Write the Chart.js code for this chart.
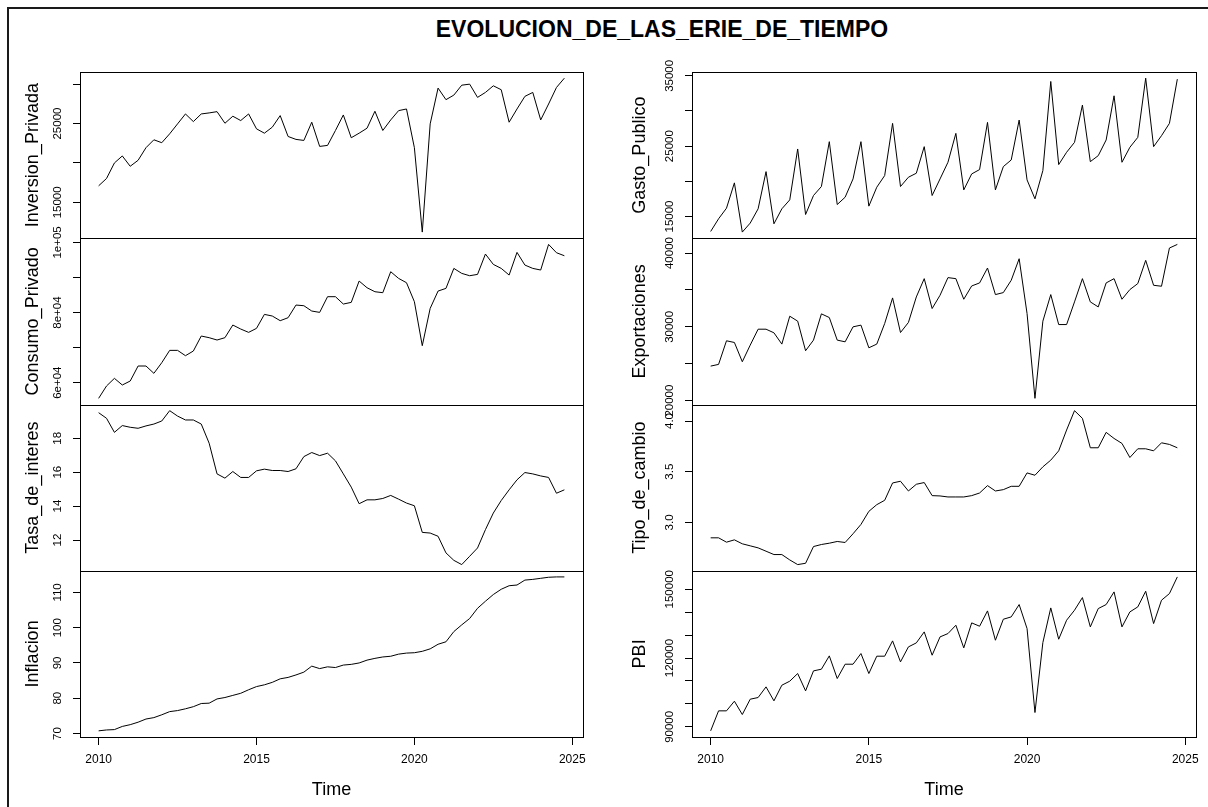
<!DOCTYPE html>
<html>
<head>
<meta charset="utf-8">
<script src="https://cdn.jsdelivr.net/npm/chart.js@4.4.1/dist/chart.umd.min.js"></script>
<style>
  html, body { margin: 0; padding: 0; background: #fff; overflow: hidden; }
  body { width: 1208px; height: 807px; position: relative; font-family: "Liberation Sans", Arial, sans-serif; }
  #frame { position: absolute; left: 7px; top: 7px; width: 1300px; height: 900px; border: 2px solid #1a1a1a; }
  #title { position: absolute; left: 0; width: 1324px; top: 15px; text-align: center; font-weight: bold;
           font-size: 23px; line-height: 28px; color: #000; white-space: nowrap; }
  canvas { position: absolute; top: 0; }
  #left { left: 0; }
  #right { left: 600px; }
</style>
</head>
<body>
<div id="frame"></div>
<div id="title">EVOLUCION_DE_LAS_ERIE_DE_TIEMPO</div>
<canvas id="left" width="600" height="807"></canvas>
<canvas id="right" width="608" height="807"></canvas>
<script>
// quarterly series, 2010 Q1 .. 2024 Q4
const tsStart = 2010;
const tsFrequency = 4;
const xTicks = [2010, 2015, 2020, 2025];

const inversionPrivada = [17100, 18030, 20000, 20890, 19580, 20340, 21940, 22940, 22570, 23700,
  24960, 26220, 25250, 26220, 26350, 26510, 25040, 25930, 25380, 26220,
  24330, 23780, 24540, 26010, 23360, 22990, 22860, 25170, 22100, 22230,
  24120, 26090, 23200, 23780, 24410, 26560, 24120, 25460, 26640, 26850,
  21940, 11230, 24960, 29500, 28030, 28610, 29870, 30000, 28320, 28950,
  29790, 29290, 25170, 26850, 28450, 28950, 25460, 27480, 29580, 30760];
const consumoPrivado = [55540, 59060, 61240, 59340, 60480, 64760, 64760, 62670, 65710, 69220,
  69220, 67700, 69030, 73310, 72830, 72170, 72830, 76440, 75300, 74350,
  75490, 79480, 79010, 77680, 78530, 82140, 81950, 80430, 80050, 84520,
  84520, 82430, 82900, 88980, 87080, 85940, 85660, 91640, 89740, 88510,
  83090, 70550, 81190, 86130, 86890, 92590, 91170, 90500, 90880, 96680,
  93730, 92590, 90690, 97150, 93540, 92590, 92120, 99430, 97060, 96200];
const tasaDeInteres = [19.51, 19.18, 18.35, 18.75, 18.65, 18.59, 18.73, 18.84, 19.02, 19.63,
  19.31, 19.08, 19.08, 18.84, 17.71, 15.90, 15.65, 16.04, 15.69, 15.69,
  16.08, 16.18, 16.10, 16.10, 16.04, 16.20, 16.92, 17.16, 16.98, 17.12,
  16.67, 15.90, 15.12, 14.14, 14.37, 14.37, 14.45, 14.63, 14.41, 14.18,
  14.02, 12.45, 12.41, 12.22, 11.24, 10.80, 10.55, 11.04, 11.53, 12.61,
  13.59, 14.33, 14.96, 15.55, 15.98, 15.90, 15.78, 15.69, 14.76, 14.96];
const inflacion = [70.75, 71.0, 71.1, 72.0, 72.5, 73.2, 74.1, 74.5, 75.3, 76.2,
  76.5, 77.0, 77.6, 78.5, 78.6, 79.8, 80.2, 80.8, 81.4, 82.4,
  83.3, 83.8, 84.5, 85.5, 85.9, 86.6, 87.4, 89.1, 88.4, 88.9,
  88.7, 89.4, 89.6, 90.0, 90.8, 91.3, 91.7, 91.9, 92.5, 92.8,
  92.9, 93.3, 94.0, 95.3, 96.0, 98.9, 100.8, 102.6, 105.5, 107.5,
  109.4, 110.9, 111.9, 112.1, 113.5, 113.7, 114.0, 114.3, 114.4, 114.4];
const gastoPublico = [12870, 14670, 16180, 19780, 12780, 14060, 16090, 21380, 13960, 16090,
  17360, 24600, 15280, 17980, 19260, 25640, 16700, 17740, 20340, 25640,
  16470, 19160, 20820, 28240, 19260, 20580, 21150, 24930, 17980, 20340,
  22710, 26820, 18780, 21050, 21670, 28380, 18780, 22090, 23040, 28710,
  20200, 17510, 21530, 34200, 22380, 24130, 25540, 30840, 22800, 23650,
  25880, 32160, 22710, 24840, 26250, 34670, 24930, 26490, 28240, 34530];
const exportaciones = [24680, 24910, 28110, 27880, 25270, 27520, 29680, 29680, 29190, 27660,
  31440, 30770, 26760, 28200, 31760, 31260, 28200, 27970, 30000, 30230,
  27160, 27660, 30450, 33920, 29230, 30590, 34050, 36530, 32480, 34280,
  36670, 36530, 33740, 35540, 35950, 37970, 34370, 34640, 36310, 39230,
  31800, 20310, 30770, 34370, 30310, 30310, 33380, 36530, 33380, 32700,
  35950, 36530, 33740, 35050, 35860, 39010, 35630, 35500, 40680, 41170];
const tipoDeCambio = [2.848, 2.848, 2.805, 2.828, 2.789, 2.769, 2.749, 2.716, 2.683, 2.683,
  2.630, 2.584, 2.597, 2.762, 2.782, 2.795, 2.812, 2.802, 2.888, 2.980,
  3.109, 3.175, 3.218, 3.389, 3.406, 3.310, 3.376, 3.393, 3.264, 3.261,
  3.251, 3.251, 3.251, 3.264, 3.290, 3.363, 3.310, 3.323, 3.356, 3.356,
  3.488, 3.465, 3.548, 3.614, 3.706, 3.911, 4.102, 4.026, 3.736, 3.736,
  3.888, 3.828, 3.779, 3.640, 3.726, 3.726, 3.706, 3.785, 3.769, 3.736];
const pbi = [88250, 96970, 96970, 101180, 95370, 102050, 102780, 107430, 101330, 108150,
  109900, 113240, 105680, 114400, 115130, 120940, 111060, 117310, 117310, 121960,
  113240, 120800, 120800, 127480, 118330, 124860, 126600, 131400, 121230, 129220,
  130670, 134310, 124430, 135330, 133870, 140560, 127770, 136920, 137940, 143320,
  132850, 96240, 126750, 141860, 128200, 136490, 140850, 146370, 133580, 141570,
  143320, 148840, 133580, 140120, 142300, 149130, 135030, 145210, 148110, 155380];

// y ticks per panel; empty label = tick mark only (R drops overlapping labels)
const inversionTicks = [15000, 20000, 25000, 30000];
const inversionTickLabels = ['15000', '', '25000', ''];
const consumoTicks = [60000, 70000, 80000, 90000, 100000];
const consumoTickLabels = ['6e+04', '', '8e+04', '', '1e+05'];
const tasaTicks = [12, 14, 16, 18];
const tasaTickLabels = ['12', '14', '16', '18'];
const inflacionTicks = [70, 80, 90, 100, 110];
const inflacionTickLabels = ['70', '80', '90', '100', '110'];
const gastoTicks = [15000, 20000, 25000, 30000, 35000];
const gastoTickLabels = ['15000', '', '25000', '', '35000'];
const exportTicks = [20000, 25000, 30000, 35000, 40000];
const exportTickLabels = ['20000', '', '30000', '', '40000'];
const tipoTicks = [3.0, 3.5, 4.0];
const tipoTickLabels = ['3.0', '3.5', '4.0'];
const pbiTicks = [90000, 100000, 110000, 120000, 130000, 140000, 150000];
const pbiTickLabels = ['90000', '', '', '120000', '', '', '150000'];

Chart.defaults.font.family = '"Liberation Sans", Arial, sans-serif';

function timeOf(i) {
  return tsStart + i / tsFrequency;
}

// R pads the data range by 4% on each side
function rRange(values) {
  const lo = Math.min(...values), hi = Math.max(...values);
  const pad = (hi - lo) * 0.04;
  return [lo - pad, hi + pad];
}

const xRange = rRange(inversionPrivada.map((v, i) => timeOf(i)));

const leftPanels = [
  { id: 'inv', title: 'Inversion_Privada', values: inversionPrivada, ticks: inversionTicks, labels: inversionTickLabels },
  { id: 'con', title: 'Consumo_Privado', values: consumoPrivado, ticks: consumoTicks, labels: consumoTickLabels },
  { id: 'tasa', title: 'Tasa_de_interes', values: tasaDeInteres, ticks: tasaTicks, labels: tasaTickLabels },
  { id: 'infl', title: 'Inflacion', values: inflacion, ticks: inflacionTicks, labels: inflacionTickLabels }
];
const rightPanels = [
  { id: 'gas', title: 'Gasto_Publico', values: gastoPublico, ticks: gastoTicks, labels: gastoTickLabels },
  { id: 'exp', title: 'Exportaciones', values: exportaciones, ticks: exportTicks, labels: exportTickLabels },
  { id: 'tipo', title: 'Tipo_de_cambio', values: tipoDeCambio, ticks: tipoTicks, labels: tipoTickLabels },
  { id: 'pbi', title: 'PBI', values: pbi, ticks: pbiTicks, labels: pbiTickLabels }
];

// box around each panel + y tick labels written along the axis like R does
const panelFrame = {
  id: 'panelFrame',
  afterDraw(chart, args, opts) {
    const { ctx, chartArea } = chart;
    ctx.save();
    ctx.strokeStyle = '#000';
    ctx.lineWidth = 1;
    opts.panels.forEach(p => {
      const s = chart.scales[p.id];
      const top = Math.round(s.top), bottom = Math.round(s.bottom);
      ctx.strokeRect(Math.round(chartArea.left) + 0.5, top + 0.5,
        Math.round(chartArea.right - chartArea.left), bottom - top);
      ctx.fillStyle = '#000';
      ctx.font = '11.5px "Liberation Sans", Arial, sans-serif';
      ctx.textAlign = 'center';
      ctx.textBaseline = 'middle';
      s.ticks.forEach((t, i) => {
        const txt = p.labels[i];
        if (!txt) return;
        ctx.save();
        ctx.translate(chartArea.left - 22, s.getPixelForValue(t.value));
        ctx.rotate(-Math.PI / 2);
        ctx.fillText(txt, 0, 0);
        ctx.restore();
      });
    });
    ctx.restore();
  }
};

function buildColumn(canvasId, panels, axisWidth, titlePad, rightPad) {
  const scales = {
    x: {
      type: 'linear',
      min: xRange[0],
      max: xRange[1],
      afterBuildTicks: s => { s.ticks = xTicks.map(v => ({ value: v })); },
      afterFit: s => { s.height = 70; },
      ticks: { callback: v => String(v), color: '#000', font: { size: 12 }, padding: 7, maxRotation: 0, autoSkip: false },
      grid: { drawOnChartArea: false, drawTicks: true, tickLength: 8, color: '#000' },
      border: { display: true, color: '#000', width: 1 },
      title: { display: true, text: 'Time', color: '#000', font: { size: 18 }, padding: { top: 0, bottom: 6 } }
    }
  };
  panels.forEach((p, k) => {
    const [lo, hi] = rRange(p.values);
    scales[p.id] = {
      type: 'linear',
      position: 'left',
      stack: 'column',
      stackWeight: 1,
      weight: panels.length - k,
      min: lo,
      max: hi,
      afterBuildTicks: s => { s.ticks = p.ticks.map(v => ({ value: v })); },
      afterFit: s => { s.width = axisWidth; },
      ticks: { display: false },
      grid: { drawOnChartArea: false, drawTicks: true, tickLength: 7, color: '#000' },
      border: { display: true, color: '#000', width: 1 },
      title: { display: true, text: p.title, color: '#000', font: { size: 18 }, padding: { top: titlePad, bottom: 0 } }
    };
  });

  new Chart(document.getElementById(canvasId), {
    type: 'line',
    data: {
      datasets: panels.map(p => ({
        data: p.values.map((v, i) => ({ x: timeOf(i), y: v })),
        yAxisID: p.id,
        borderColor: '#000',
        borderWidth: 1,
        pointRadius: 0,
        tension: 0,
        fill: false
      }))
    },
    options: {
      responsive: false,
      animation: false,
      layout: { padding: { top: 72, right: rightPad, bottom: 0, left: 0 } },
      scales: scales,
      plugins: {
        legend: { display: false },
        tooltip: { enabled: false },
        panelFrame: { panels: panels }
      }
    },
    plugins: [panelFrame]
  });
}

buildColumn('left', leftPanels, 80, 22, 17);
buildColumn('right', rightPanels, 92, 29, 12);
</script>
</body>
</html>
